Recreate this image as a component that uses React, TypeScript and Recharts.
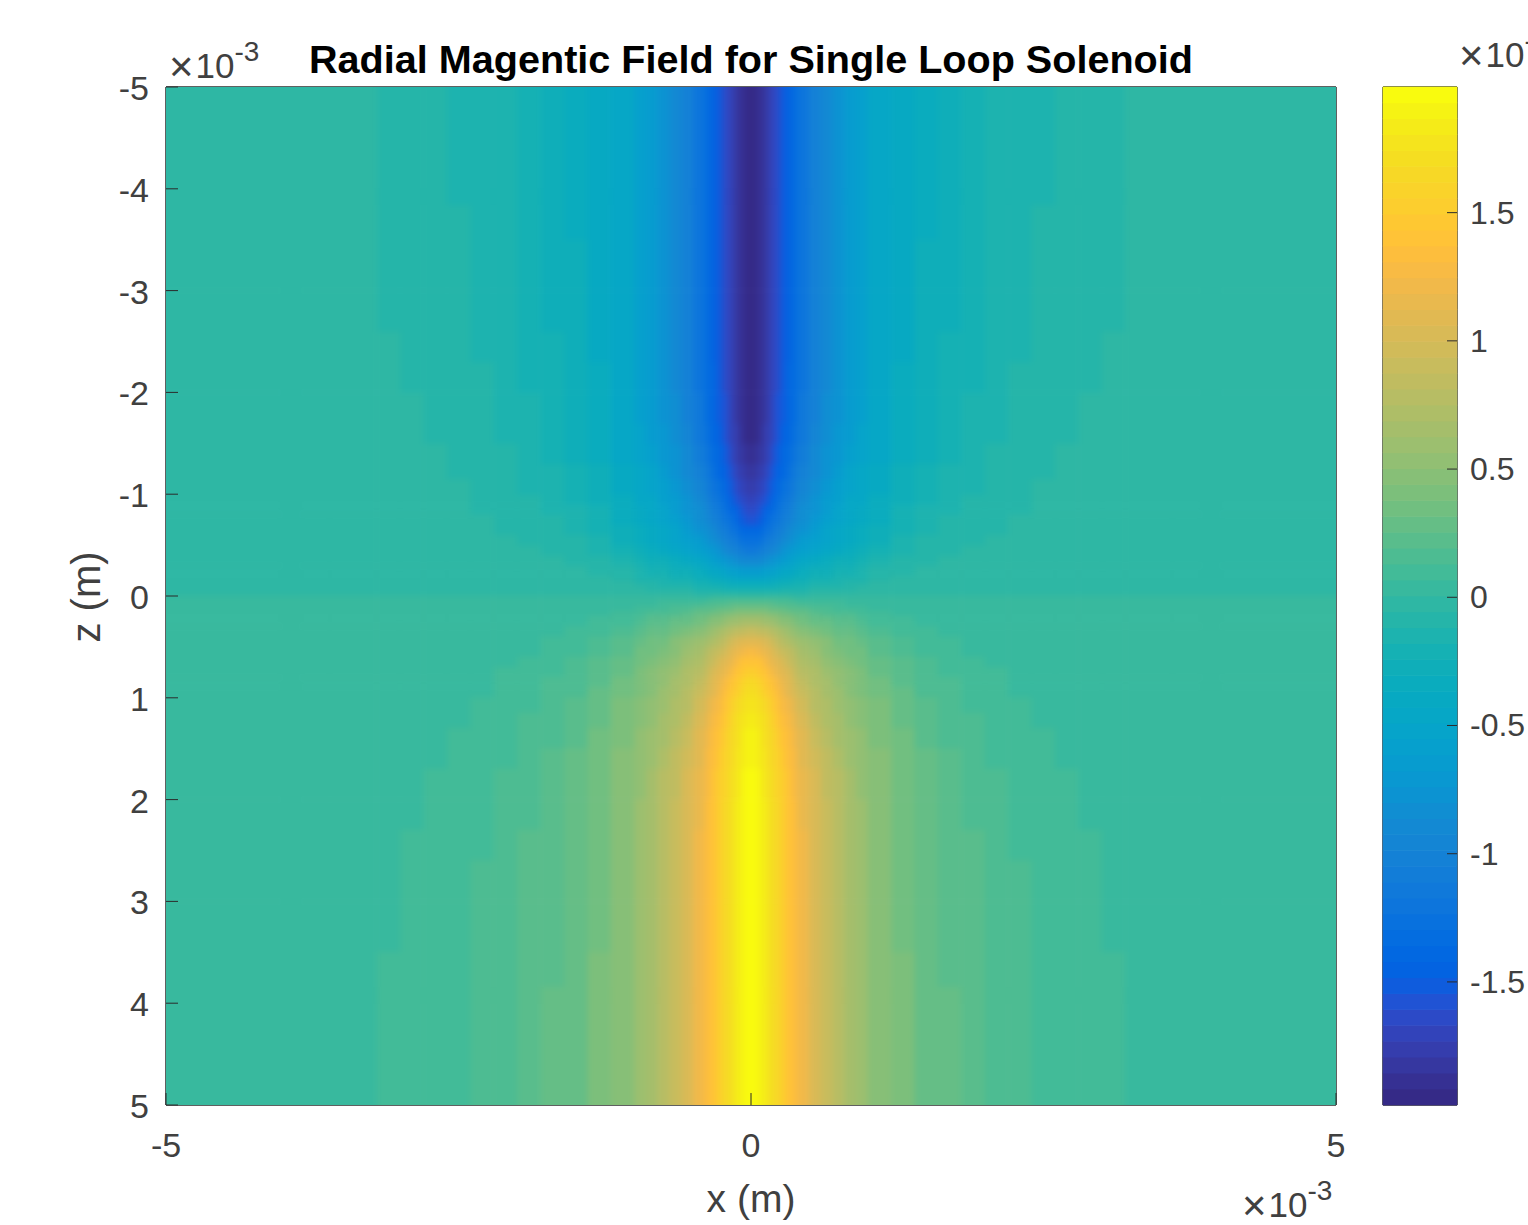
import { ScatterChart, Scatter, XAxis, YAxis } from 'recharts';

// field is drawn as filled cells; edges are in units of 1e-3 m
const xEdges = [0, 0.05, 0.1, 0.15, 0.2, 0.25, 0.3, 0.35, 0.4, 0.5, 0.6, 0.7, 0.8, 0.9, 1, 1.2, 1.4, 1.6, 1.8, 2, 2.2, 2.4, 2.6, 2.8, 3, 3.2, 3.6, 4, 5];
const zEdges = [0, 0.05, 0.1, 0.15, 0.2, 0.3, 0.4, 0.5, 0.6, 0.7, 0.8, 0.9, 1, 1.15, 1.3, 1.5, 1.7, 2, 2.3, 2.6, 3, 3.5, 4, 5];

// |Br|, in units of 1e-7. One row per z band, one column per x band.
// The picture is mirrored left/right, and flips sign across z = 0.
const fieldRows = [
  [0.08, 0.08, 0.08, 0.08, 0.078, 0.075, 0.07, 0.066, 0.06, 0.05, 0.04, 0.03, 0.025, 0.02, 0.012, 0.008, 0.006, 0.006, 0.006, 0.006, 0.006, 0.006, 0.006, 0.006, 0.006, 0.006, 0.006, 0.006],
  [0.22, 0.22, 0.21, 0.2, 0.19, 0.175, 0.16, 0.145, 0.125, 0.105, 0.09, 0.078, 0.067, 0.057, 0.034, 0.022, 0.0155, 0.011, 0.0085, 0.0065, 0.006, 0.006, 0.006, 0.006, 0.006, 0.006, 0.006, 0.006],
  [0.34, 0.34, 0.33, 0.31, 0.29, 0.27, 0.25, 0.225, 0.195, 0.165, 0.14, 0.125, 0.11, 0.095, 0.057, 0.036, 0.026, 0.019, 0.014, 0.011, 0.008, 0.006, 0.006, 0.006, 0.006, 0.006, 0.006, 0.006],
  [0.47, 0.46, 0.44, 0.42, 0.39, 0.36, 0.33, 0.3, 0.26, 0.22, 0.19, 0.165, 0.145, 0.125, 0.082, 0.055, 0.037, 0.026, 0.02, 0.015, 0.0114, 0.0088, 0.0068, 0.006, 0.006, 0.006, 0.006, 0.006],
  [0.66, 0.64, 0.61, 0.57, 0.53, 0.49, 0.45, 0.41, 0.36, 0.3, 0.26, 0.225, 0.195, 0.17, 0.118, 0.08, 0.056, 0.04, 0.029, 0.022, 0.016, 0.0125, 0.0098, 0.0077, 0.006, 0.006, 0.006, 0.006],
  [0.9, 0.87, 0.82, 0.76, 0.7, 0.64, 0.59, 0.54, 0.47, 0.4, 0.34, 0.29, 0.26, 0.23, 0.158, 0.106, 0.078, 0.057, 0.043, 0.032, 0.024, 0.0185, 0.014, 0.0108, 0.0086, 0.0062, 0.006, 0.006],
  [1.12, 1.08, 1.02, 0.94, 0.87, 0.8, 0.73, 0.67, 0.59, 0.51, 0.44, 0.37, 0.32, 0.28, 0.206, 0.139, 0.096, 0.071, 0.055, 0.041, 0.032, 0.025, 0.019, 0.015, 0.0118, 0.0082, 0.006, 0.006],
  [1.28, 1.24, 1.16, 1.07, 0.99, 0.91, 0.83, 0.76, 0.67, 0.58, 0.5, 0.43, 0.37, 0.33, 0.245, 0.169, 0.119, 0.085, 0.0645, 0.05, 0.039, 0.03, 0.0236, 0.019, 0.0148, 0.0105, 0.007, 0.006],
  [1.42, 1.37, 1.28, 1.18, 1.09, 1, 0.92, 0.84, 0.74, 0.64, 0.55, 0.47, 0.41, 0.36, 0.278, 0.194, 0.141, 0.102, 0.077, 0.058, 0.044, 0.034, 0.027, 0.0216, 0.0175, 0.0126, 0.0083, 0.006],
  [1.55, 1.49, 1.39, 1.28, 1.18, 1.09, 1, 0.92, 0.81, 0.69, 0.59, 0.51, 0.44, 0.38, 0.31, 0.217, 0.158, 0.117, 0.089, 0.0675, 0.051, 0.039, 0.03, 0.0243, 0.0198, 0.0144, 0.0097, 0.006],
  [1.65, 1.58, 1.48, 1.37, 1.26, 1.16, 1.07, 0.98, 0.86, 0.74, 0.63, 0.54, 0.47, 0.41, 0.336, 0.238, 0.175, 0.13, 0.1, 0.0765, 0.058, 0.044, 0.0347, 0.0275, 0.0217, 0.016, 0.0108, 0.0066],
  [1.72, 1.65, 1.55, 1.44, 1.33, 1.22, 1.12, 1.03, 0.9, 0.77, 0.66, 0.57, 0.49, 0.43, 0.365, 0.258, 0.19, 0.142, 0.11, 0.085, 0.0645, 0.049, 0.038, 0.0306, 0.0243, 0.0174, 0.012, 0.0074],
  [1.79, 1.72, 1.62, 1.51, 1.4, 1.29, 1.19, 1.09, 0.95, 0.81, 0.69, 0.6, 0.52, 0.45, 0.394, 0.281, 0.208, 0.156, 0.121, 0.094, 0.073, 0.056, 0.0436, 0.0347, 0.0274, 0.0198, 0.0133, 0.0082],
  [1.85, 1.78, 1.69, 1.57, 1.46, 1.36, 1.26, 1.16, 1.01, 0.87, 0.74, 0.64, 0.55, 0.48, 0.418, 0.304, 0.226, 0.171, 0.134, 0.104, 0.081, 0.0625, 0.0494, 0.0396, 0.0312, 0.0225, 0.015, 0.0091],
  [1.9, 1.83, 1.74, 1.63, 1.52, 1.42, 1.32, 1.22, 1.07, 0.92, 0.79, 0.68, 0.59, 0.51, 0.437, 0.327, 0.245, 0.186, 0.148, 0.114, 0.089, 0.069, 0.055, 0.044, 0.0353, 0.0258, 0.0173, 0.0102],
  [1.92, 1.86, 1.77, 1.67, 1.56, 1.46, 1.36, 1.26, 1.12, 0.96, 0.83, 0.71, 0.62, 0.54, 0.451, 0.344, 0.265, 0.204, 0.16, 0.126, 0.098, 0.0775, 0.0614, 0.0495, 0.0395, 0.029, 0.0198, 0.0118],
  [1.94, 1.88, 1.8, 1.7, 1.6, 1.5, 1.4, 1.3, 1.16, 1, 0.86, 0.75, 0.65, 0.56, 0.463, 0.357, 0.28, 0.22, 0.176, 0.139, 0.108, 0.086, 0.068, 0.0553, 0.0448, 0.0327, 0.0225, 0.0138],
  [1.95, 1.89, 1.81, 1.72, 1.62, 1.52, 1.42, 1.32, 1.18, 1.02, 0.88, 0.77, 0.66, 0.57, 0.468, 0.365, 0.291, 0.232, 0.188, 0.15, 0.119, 0.094, 0.076, 0.062, 0.05, 0.0366, 0.0254, 0.0157],
  [1.95, 1.9, 1.82, 1.73, 1.63, 1.53, 1.43, 1.33, 1.19, 1.03, 0.89, 0.77, 0.67, 0.58, 0.472, 0.37, 0.298, 0.24, 0.198, 0.16, 0.1275, 0.1025, 0.082, 0.0675, 0.0543, 0.04, 0.028, 0.0174],
  [1.95, 1.9, 1.82, 1.73, 1.63, 1.53, 1.43, 1.33, 1.19, 1.03, 0.89, 0.77, 0.67, 0.58, 0.476, 0.374, 0.302, 0.246, 0.203, 0.165, 0.135, 0.109, 0.088, 0.073, 0.059, 0.044, 0.031, 0.0192],
  [1.95, 1.9, 1.82, 1.73, 1.63, 1.53, 1.43, 1.33, 1.2, 1.04, 0.9, 0.78, 0.67, 0.58, 0.478, 0.377, 0.305, 0.25, 0.208, 0.17, 0.14, 0.113, 0.093, 0.077, 0.0646, 0.0486, 0.034, 0.0214],
  [1.95, 1.9, 1.82, 1.73, 1.63, 1.53, 1.43, 1.33, 1.2, 1.04, 0.9, 0.78, 0.67, 0.58, 0.48, 0.38, 0.308, 0.252, 0.212, 0.175, 0.145, 0.118, 0.098, 0.082, 0.0684, 0.052, 0.037, 0.0237],
  [1.95, 1.9, 1.82, 1.73, 1.63, 1.53, 1.43, 1.33, 1.2, 1.04, 0.9, 0.78, 0.67, 0.58, 0.48, 0.38, 0.31, 0.255, 0.215, 0.18, 0.15, 0.122, 0.103, 0.088, 0.073, 0.055, 0.04, 0.027],
];

const parula = [
  [0.2081, 0.1663, 0.5292], [0.2116, 0.1898, 0.5777], [0.2123, 0.2138, 0.627], [0.2081, 0.2386, 0.6771],
  [0.1959, 0.2645, 0.7279], [0.1707, 0.2919, 0.7792], [0.1253, 0.3242, 0.8303], [0.0591, 0.3598, 0.8683],
  [0.0117, 0.3875, 0.882], [0.006, 0.4086, 0.8828], [0.0165, 0.4266, 0.8786], [0.0329, 0.443, 0.872],
  [0.0498, 0.4586, 0.8641], [0.0629, 0.4737, 0.8554], [0.0723, 0.4887, 0.8467], [0.0779, 0.504, 0.8384],
  [0.0793, 0.52, 0.8312], [0.0749, 0.5375, 0.8263], [0.0641, 0.557, 0.824], [0.0488, 0.5772, 0.8228],
  [0.0343, 0.5966, 0.8199], [0.0265, 0.6137, 0.8135], [0.0239, 0.6287, 0.8038], [0.0231, 0.6418, 0.7913],
  [0.0228, 0.6535, 0.7768], [0.0267, 0.6642, 0.7607], [0.0384, 0.6743, 0.7436], [0.059, 0.6838, 0.7254],
  [0.0843, 0.6928, 0.7062], [0.1133, 0.7015, 0.6859], [0.1453, 0.7098, 0.6646], [0.1801, 0.7177, 0.6424],
  [0.2178, 0.725, 0.6193], [0.2586, 0.7317, 0.5954], [0.3022, 0.7376, 0.5712], [0.3482, 0.7424, 0.5473],
  [0.3953, 0.7459, 0.5244], [0.442, 0.7481, 0.5033], [0.4871, 0.7491, 0.484], [0.53, 0.7491, 0.4661],
  [0.5709, 0.7485, 0.4494], [0.6099, 0.7473, 0.4337], [0.6473, 0.7456, 0.4188], [0.6834, 0.7435, 0.4044],
  [0.7184, 0.7411, 0.3905], [0.7525, 0.7384, 0.3768], [0.7858, 0.7356, 0.3633], [0.8185, 0.7327, 0.3498],
  [0.8507, 0.7299, 0.336], [0.8824, 0.7274, 0.3217], [0.9139, 0.7258, 0.3063], [0.945, 0.7261, 0.2886],
  [0.9739, 0.7314, 0.2666], [0.9938, 0.7455, 0.2403], [0.999, 0.7653, 0.2164], [0.9955, 0.7861, 0.1967],
  [0.988, 0.8066, 0.1794], [0.9789, 0.8271, 0.1633], [0.9697, 0.8481, 0.1475], [0.9626, 0.8705, 0.1309],
  [0.9589, 0.8949, 0.1132], [0.9598, 0.9218, 0.0948], [0.9661, 0.9514, 0.0755], [0.9763, 0.9831, 0.0538],
];

const xTicks = [-5, 0, 5];
const zTicks = [-5, -4, -3, -2, -1, 0, 1, 2, 3, 4, 5];
const barTicks = [-1.5, -1, -0.5, 0, 0.5, 1, 1.5];
const cMin = -1.98;
const cMax = 1.99;

const INK = '#404040';
const BOX = '#2b2b2b';
const FONT = '"Liberation Sans", Arial, sans-serif';

const colorOf = (v: number) => {
  const i = Math.floor(((v - cMin) / (cMax - cMin)) * parula.length);
  const [r, g, b] = parula[Math.max(0, Math.min(parula.length - 1, i))];
  return `rgb(${Math.round(r * 255)},${Math.round(g * 255)},${Math.round(b * 255)})`;
};

const cells: { x: number; z: number; v: number; w: number; h: number }[] = [];
fieldRows.forEach((row, r) => {
  row.forEach((value, c) => {
    const xMid = (xEdges[c] + xEdges[c + 1]) / 2;
    const zMid = (zEdges[r] + zEdges[r + 1]) / 2;
    const w = xEdges[c + 1] - xEdges[c];
    const h = zEdges[r + 1] - zEdges[r];
    [-1, 1].forEach((sx) => {
      [-1, 1].forEach((sz) => {
        cells.push({ x: sx * xMid, z: sz * zMid, v: sz * value, w, h });
      });
    });
  });
});

const levels = parula.map((_, i) => {
  const step = (cMax - cMin) / parula.length;
  return { x: 0.5, z: cMin + (i + 0.5) * step, v: cMin + (i + 0.5) * step, w: 1, h: step };
});

// data units to pixels, for the size of one cell
const PLOT_W = 1170;
const PLOT_H = 1018;
const BAR_W = 74;

const cellShape = (pxX: number, pxY: number, bleed = 0) => (props: any) => {
  const { cx, cy, payload } = props;
  const w = payload.w * pxX;
  const h = payload.h * pxY;
  // outer cells run past the frame so the softening does not fade at the edge
  const atX = Math.abs(Math.abs(payload.x) + payload.w / 2 - 5) < 1e-6;
  const atZ = Math.abs(Math.abs(payload.z) + payload.h / 2 - 5) < 1e-6;
  const padX = atX ? bleed : 0;
  const padZ = atZ ? bleed : 0;
  return (
    <rect
      x={cx - w / 2 - 0.3 - padX}
      y={cy - h / 2 - 0.3 - padZ}
      width={w + 0.6 + 2 * padX}
      height={h + 0.6 + 2 * padZ}
      fill={colorOf(payload.v)}
      stroke="none"
    />
  );
};

const bottomTick = ({ x, y, payload }: any) => (
  <g>
    <line x1={x} x2={x} y1={y} y2={y - 12} stroke={BOX} strokeWidth={1} />
    <text x={x} y={y + 52} textAnchor="middle" fontSize={34} fontFamily={FONT} fill={INK}>
      {payload.value}
    </text>
  </g>
);
const topTick = ({ x, y }: any) => <line x1={x} x2={x} y1={y} y2={y + 12} stroke={BOX} strokeWidth={1} />;
const leftTick = ({ x, y, payload }: any) => (
  <g>
    <line x1={x} x2={x + 12} y1={y} y2={y} stroke={BOX} strokeWidth={1} />
    <text x={x - 17} y={y + 13} textAnchor="end" fontSize={34} fontFamily={FONT} fill={INK}>
      {payload.value}
    </text>
  </g>
);
const rightTick = ({ x, y }: any) => <line x1={x} x2={x - 12} y1={y} y2={y} stroke={BOX} strokeWidth={1} />;
const barTick = ({ x, y, payload }: any) => (
  <g>
    <line x1={x} x2={x - 10} y1={y} y2={y} stroke={BOX} strokeWidth={1} />
    <text x={x + 13} y={y + 11} textAnchor="start" fontSize={32} fontFamily={FONT} fill={INK}>
      {payload.value}
    </text>
  </g>
);

const Times10 = ({ x, y, exp }: { x: number; y: number; exp: string }) => (
  <text x={x} y={y} fontFamily={FONT} fill={INK}>
    <tspan dy={3} fontSize={42}>×</tspan>
    <tspan dx={2} dy={-3} fontSize={35}>10</tspan>
    <tspan dy={-17} fontSize={28}>{exp}</tspan>
  </text>
);

const frame = { stroke: BOX, strokeWidth: 1.5 };

export default function App() {
  return (
    <div style={{ position: 'absolute', left: 0, top: 0, width: 1528, height: 1225, overflow: 'hidden', background: '#fff' }}>
      <style>{'.heat { filter: blur(3px); clip-path: url(#plotClip); }'}</style>
      <div style={{ position: 'absolute', left: 0, top: 0 }}>
        <ScatterChart width={1528} height={1225} margin={{ top: 57, right: 132, bottom: 90, left: 106 }}>
          <XAxis xAxisId="b" type="number" dataKey="x" domain={[-5, 5]} ticks={xTicks} interval={0} tickSize={0} tickMargin={0} height={30} axisLine={frame} tick={bottomTick} />
          <XAxis xAxisId="t" type="number" orientation="top" domain={[-5, 5]} ticks={xTicks} interval={0} tickSize={0} tickMargin={0} height={30} axisLine={frame} tick={topTick} />
          <YAxis yAxisId="l" type="number" dataKey="z" reversed domain={[-5, 5]} ticks={zTicks} interval={0} tickSize={0} tickMargin={0} width={60} axisLine={frame} tick={leftTick} />
          <YAxis yAxisId="r" type="number" orientation="right" reversed domain={[-5, 5]} ticks={zTicks} interval={0} tickSize={0} tickMargin={0} width={60} axisLine={frame} tick={rightTick} />
          <Scatter className="heat" xAxisId="b" yAxisId="l" data={cells} shape={cellShape(PLOT_W / 10, PLOT_H / 10, 16)} isAnimationActive={false} />
        </ScatterChart>
      </div>
      <div style={{ position: 'absolute', left: 1300, top: 0 }}>
        <ScatterChart width={228} height={1225} margin={{ top: 57, right: 11, bottom: 90, left: 23 }}>
          <XAxis xAxisId="b" type="number" dataKey="x" domain={[0, 1]} ticks={[]} tickSize={0} height={30} axisLine={frame} />
          <XAxis xAxisId="t" type="number" orientation="top" domain={[0, 1]} ticks={[]} tickSize={0} height={30} axisLine={frame} />
          <YAxis yAxisId="l" type="number" domain={[cMin, cMax]} ticks={[]} tickSize={0} width={60} axisLine={frame} />
          <YAxis yAxisId="r" type="number" dataKey="z" orientation="right" domain={[cMin, cMax]} ticks={barTicks} interval={0} tickSize={0} tickMargin={0} width={60} axisLine={frame} tick={barTick} />
          <Scatter xAxisId="b" yAxisId="r" data={levels} shape={cellShape(BAR_W, PLOT_H / (cMax - cMin))} isAnimationActive={false} />
        </ScatterChart>
      </div>
      <svg width={1528} height={1225} style={{ position: 'absolute', left: 0, top: 0, pointerEvents: 'none' }}>
        <defs>
          <clipPath id="plotClip">
            <rect x={166} y={87} width={PLOT_W} height={PLOT_H} />
          </clipPath>
        </defs>
        <text x={751} y={73} textAnchor="middle" fontSize={39.6} fontWeight="bold" fontFamily={FONT} fill="#000">
          Radial Magentic Field for Single Loop Solenoid
        </text>
        <text x={751} y={1212} textAnchor="middle" fontSize={39} fontFamily={FONT} fill={INK}>x (m)</text>
        <text x={0} y={0} transform="translate(100,597) rotate(-90)" textAnchor="middle" fontSize={40} fontFamily={FONT} fill={INK}>z (m)</text>
        <Times10 x={169} y={78} exp="-3" />
        <Times10 x={1242} y={1217} exp="-3" />
        <Times10 x={1459} y={67} exp="-7" />
      </svg>
    </div>
  );
}
